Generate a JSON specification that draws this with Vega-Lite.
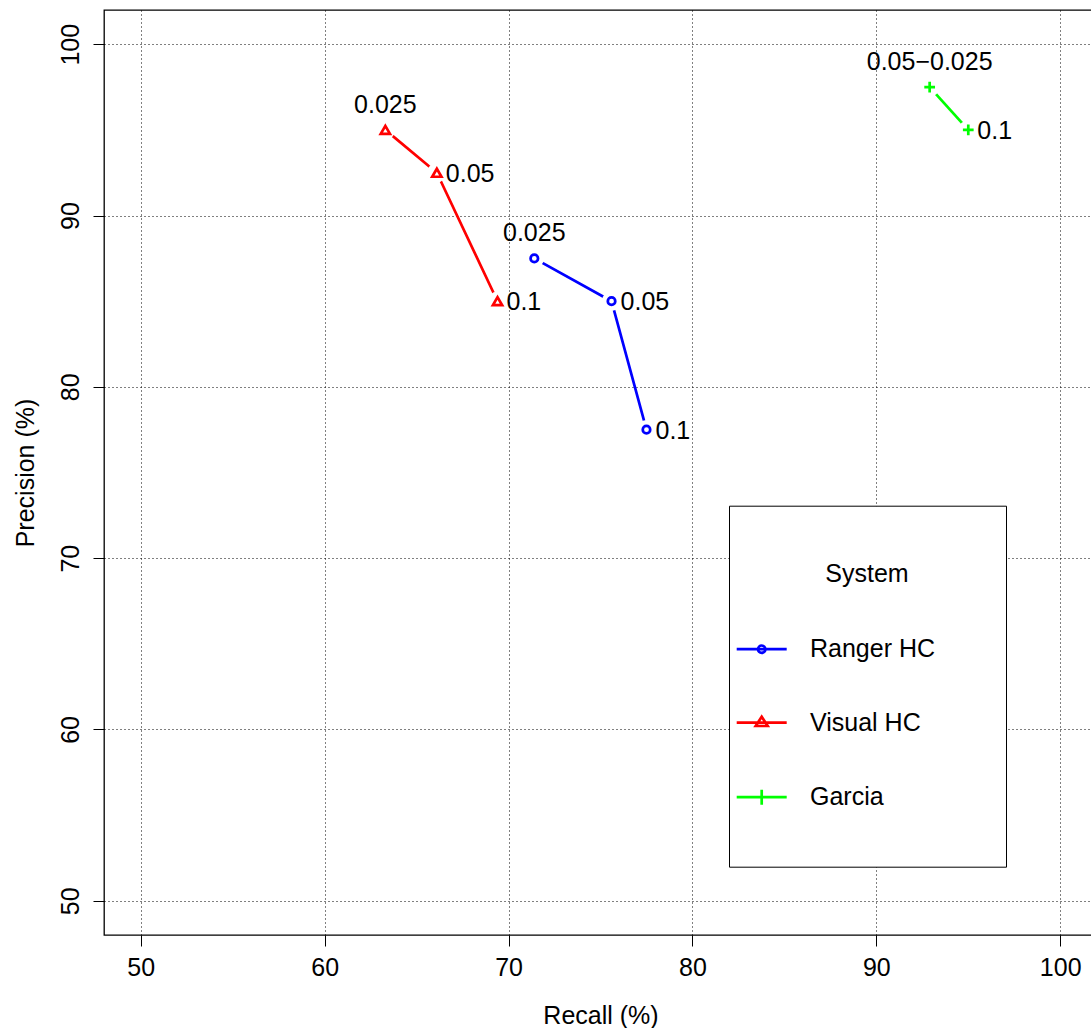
{
  "$schema": "https://vega.github.io/schema/vega-lite/v6.json",
  "width": 993,
  "height": 925,
  "autosize": {"type": "none"},
  "padding": {"left": 104, "top": 10, "right": -6, "bottom": 93},
  "data": {
    "values": [
      {"system": "Ranger HC", "recall": 71.4, "precision": 87.5, "label": "0.025", "order": 1},
      {"system": "Ranger HC", "recall": 75.6, "precision": 85.0, "label": "0.05", "order": 2},
      {"system": "Ranger HC", "recall": 77.5, "precision": 77.5, "label": "0.1", "order": 3},
      {"system": "Visual HC", "recall": 63.3, "precision": 95.0, "label": "0.025", "order": 1},
      {"system": "Visual HC", "recall": 66.1, "precision": 92.5, "label": "0.05", "order": 2},
      {"system": "Visual HC", "recall": 69.4, "precision": 85.0, "label": "0.1", "order": 3},
      {"system": "Garcia", "recall": 92.9, "precision": 97.5, "label": "0.05\u22120.025", "order": 1},
      {"system": "Garcia", "recall": 95.0, "precision": 95.0, "label": "0.1", "order": 2}
    ]
  },
  "encoding": {
    "x": {
      "field": "recall", "type": "quantitative",
      "scale": {"domain": [48, 102], "nice": false, "zero": false},
      "axis": {"title": "Recall (%)", "values": [50, 60, 70, 80, 90, 100], "labelPadding": 9, "titlePadding": 23, "labelFlush": false, "labelOverlap": false}
    },
    "y": {
      "field": "precision", "type": "quantitative",
      "scale": {"domain": [48, 102], "nice": false, "zero": false},
      "axis": {"title": "Precision (%)", "values": [50, 60, 70, 80, 90, 100], "labelAngle": 270, "labelAlign": "center", "labelBaseline": "alphabetic", "labelPadding": 14.7, "titlePadding": 20, "labelFlush": false, "labelOverlap": false}
    }
  },
  "layer": [
    {
      "mark": {"type": "line", "strokeWidth": 2.7},
      "encoding": {
        "color": {"field": "system", "type": "nominal", "scale": {"domain": ["Ranger HC", "Visual HC", "Garcia"], "range": ["#0000ff", "#ff0000", "#00ff00"]}, "legend": null},
        "detail": {"field": "system"},
        "order": {"field": "order", "type": "quantitative"}
      }
    },
    {
      "mark": {"type": "point", "shape": "circle", "filled": true, "color": "white", "opacity": 1, "size": 380}
    },
    {
      "mark": {"type": "point", "filled": false, "strokeWidth": 2.7, "opacity": 1},
      "encoding": {
        "color": {"field": "system", "type": "nominal", "scale": {"domain": ["Ranger HC", "Visual HC", "Garcia"], "range": ["#0000ff", "#ff0000", "#00ff00"]}, "legend": null},
        "shape": {"field": "system", "type": "nominal", "scale": {"domain": ["Ranger HC", "Visual HC", "Garcia"], "range": ["circle", "triangle-up", "M-1,0H1M0,-1V1"]}, "legend": null},
        "size": {"field": "system", "type": "ordinal", "scale": {"domain": ["Ranger HC", "Visual HC", "Garcia"], "range": [56, 115, 175]}, "legend": null}
      }
    },
    {
      "mark": {"type": "point", "filled": false, "strokeWidth": 2.7, "opacity": 0},
      "encoding": {
        "color": {"field": "system", "type": "nominal", "scale": {"domain": ["Ranger HC", "Visual HC", "Garcia"], "range": ["#0000ff", "#ff0000", "#00ff00"]}, "legend": {"title": "System"}},
        "shape": {"field": "system", "type": "nominal", "scale": {"domain": ["Ranger HC", "Visual HC", "Garcia"], "range": [
          "M-12.16,0H-2.16M-7.9,0A0.74,0.74,0,1,0,-6.42,0A0.74,0.74,0,1,0,-7.9,0M29.4,0",
          "M-12.16,0H-2.16M-8.36,0.66L-5.96,0.66L-7.16,-1.2ZM29.4,0",
          "M-12.16,0H-2.16M-7.16,-1.5V1.5M29.4,0"
        ]}, "legend": {"title": "System"}}
      }
    },
    {
      "transform": [{"filter": "datum.order == 1"}],
      "mark": {"type": "text", "align": "center", "baseline": "alphabetic", "dy": -17, "fontSize": 25, "font": "Liberation Sans", "color": "black"},
      "encoding": {"text": {"field": "label", "type": "nominal"}}
    },
    {
      "transform": [{"filter": "datum.order > 1"}],
      "mark": {"type": "text", "align": "left", "baseline": "alphabetic", "dx": 9, "dy": 9, "fontSize": 25, "font": "Liberation Sans", "color": "black"},
      "encoding": {"text": {"field": "label", "type": "nominal"}}
    }
  ],
  "resolve": {"scale": {"color": "independent", "shape": "independent", "size": "independent"}},
  "config": {
    "font": "Liberation Sans",
    "view": {"stroke": "black", "strokeWidth": 1.3},
    "axis": {
      "domain": false, "grid": true, "gridColor": "black", "gridDash": [1, 3], "gridWidth": 1,
      "tickColor": "black", "tickSize": 11, "tickWidth": 1,
      "labelFont": "Liberation Sans", "labelFontSize": 25, "labelColor": "black",
      "titleFont": "Liberation Sans", "titleFontSize": 25, "titleFontWeight": "normal", "titleColor": "black"
    },
    "legend": {
      "orient": "none", "legendX": 625, "legendY": 495.7,
      "padding": 56, "strokeColor": "black", "fillColor": "white",
      "titleFont": "Liberation Sans", "titleFontSize": 25, "titleFontWeight": "normal", "titleColor": "black", "titleAnchor": "middle", "titlePadding": 50,
      "labelFont": "Liberation Sans", "labelFontSize": 25, "labelColor": "black", "labelOffset": 0,
      "rowPadding": 47.5, "symbolSize": 100, "symbolStrokeWidth": 2.7, "symbolOpacity": 1
    }
  }
}
